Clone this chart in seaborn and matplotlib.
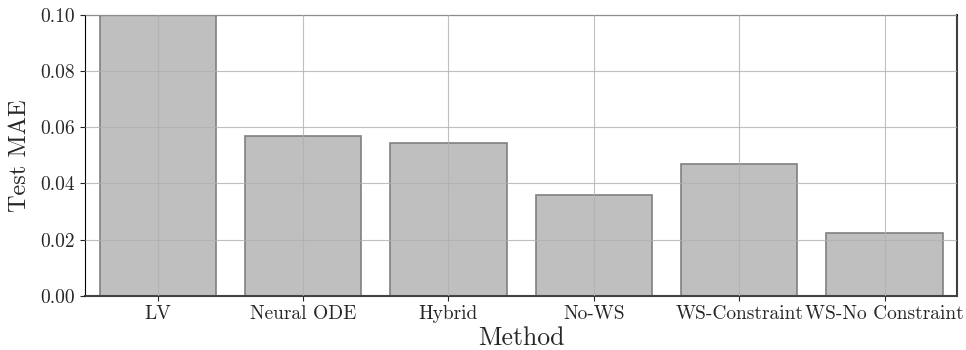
import matplotlib
matplotlib.use("Agg")
import matplotlib.pyplot as plt
import pandas as pd
import seaborn as sns

methods = ["LV", "Neural ODE", "Hybrid", "No-WS", "WS-Constraint", "WS-No Constraint"]
test_mae = [0.135, 0.0570, 0.0545, 0.0360, 0.0468, 0.0225]

sns.set_style("ticks")
plt.rcParams["font.family"] = ["cmr10", "DejaVu Serif"]
plt.rcParams["mathtext.fontset"] = "cm"
plt.rcParams["axes.formatter.use_mathtext"] = True

df = pd.DataFrame({"Method": methods, "Test MAE": test_mae})

fig, ax = plt.subplots(figsize=(9.66, 3.5), dpi=100)
sns.barplot(data=df, x="Method", y="Test MAE", color="#bfbfbf", saturation=1,
            edgecolor="#808080", linewidth=1.2, width=0.8, ax=ax)
ax.set_axisbelow(False)
ax.grid(True, color="#b0b0b0", linewidth=0.8, alpha=0.8)
ax.set_ylim(0, 0.10)
ax.set_xlim(-0.5, 5.5)
ax.set_xlabel("Method", fontsize=18.5, labelpad=2)
ax.set_ylabel("Test MAE", fontsize=17.5, labelpad=7)
ax.tick_params(labelsize=14)
ax.yaxis.set_major_formatter(matplotlib.ticker.FormatStrFormatter("%.2f"))
for s in ax.spines.values():
    s.set_visible(True)
    s.set_color("black")
ax.spines["bottom"].set_color("#404040")
ax.spines["bottom"].set_linewidth(1.5)
ax.spines["right"].set_color("#404040")
ax.spines["right"].set_linewidth(1.5)

fig.subplots_adjust(left=0.088, right=0.991, top=0.957, bottom=0.155)
fig.savefig("out.png", dpi=100)
